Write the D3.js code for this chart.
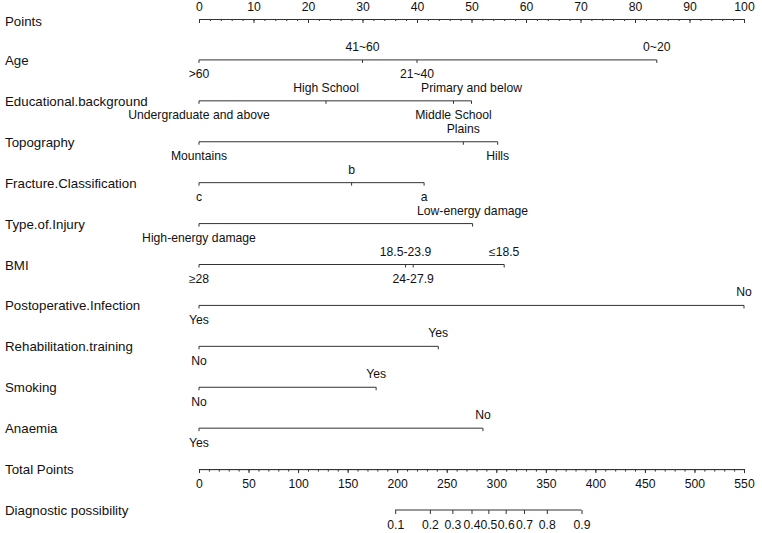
<!DOCTYPE html>
<html lang="en">
<head>
<meta charset="utf-8">
<title>Nomogram</title>
<script src="https://cdn.jsdelivr.net/npm/d3@7"></script>
<style>
body { margin: 0; background: #fff; }
text { font-family: "Liberation Sans", Arial, sans-serif; fill: #111; }
</style>
</head>
<body>
<div id="chart"></div>
<script>
var rowLabels = ["Points", "Age", "Educational.background", "Topography",
    "Fracture.Classification", "Type.of.Injury", "BMI", "Postoperative.Infection",
    "Rehabilitation.training", "Smoking", "Anaemia", "Total Points", "Diagnostic possibility"];

var pointsTicks = [0, 10, 20, 30, 40, 50, 60, 70, 80, 90, 100];

// one entry per predictor, levels and their points
var levelNames = [
    [">60", "41~60", "21~40", "0~20"],
    ["Undergraduate and above", "High School", "Middle School", "Primary and below"],
    ["Mountains", "Plains", "Hills"],
    ["c", "b", "a"],
    ["High-energy damage", "Low-energy damage"],
    ["\u226528", "18.5-23.9", "24-27.9", "\u226418.5"],
    ["Yes", "No"],
    ["No", "Yes"],
    ["No", "Yes"],
    ["Yes", "No"]
];
var levelPoints = [
    [0, 30, 40, 84],
    [0, 23.3, 46.7, 50],
    [0, 48.5, 54.8],
    [0, 28, 41.3],
    [0, 50.2],
    [0, 37.9, 39.3, 56],
    [0, 100],
    [0, 43.9],
    [0, 32.5],
    [0, 52.1]
];

var totalTicks = [0, 50, 100, 150, 200, 250, 300, 350, 400, 450, 500, 550];

var probTicks = ["0.1", "0.2", "0.3", "0.4", "0.5", "0.6", "0.7", "0.8", "0.9"];
var probTotal = [198, 233, 255.7, 275, 292, 309.5, 328, 351, 386];

var width = 762, height = 533;

var svg = d3.select("#chart").append("svg")
    .attr("width", width)
    .attr("height", height);

var xPts = d3.scaleLinear().domain([0, 100]).range([199, 744]);
var xTotal = d3.scaleLinear().domain([0, 550]).range([199, 744]);
var y = d3.scaleLinear().domain([0, 12]).range([19, 510]);

var lineColor = "#333";

// row labels
svg.append("g").selectAll("text")
    .data(rowLabels)
    .enter().append("text")
    .attr("x", 5)
    .attr("y", function(d, i) { return i == 0 ? 26 : y(i) + 5; })
    .style("font-size", "13.3px")
    .text(function(d) { return d; });

function styleAxis(g) {
    g.attr("font-size", null).attr("font-family", null);
    g.selectAll("path, line").attr("stroke", lineColor);
    g.selectAll("text").style("font-size", "12.2px").attr("fill", "#111");
}

// points axis
svg.append("g")
    .attr("transform", "translate(0," + y(0) + ")")
    .call(d3.axisTop(xPts).tickValues(xPts.ticks(50)).tickSizeInner(-2).tickSizeOuter(0).tickFormat(""))
    .call(styleAxis);

svg.append("g")
    .attr("transform", "translate(0," + y(0) + ")")
    .call(d3.axisTop(xPts).tickValues(pointsTicks).tickSizeInner(-4).tickSizeOuter(0).tickPadding(8))
    .call(styleAxis);

// predictor rows
levelNames.forEach(function(names, k) {
    var pts = levelPoints[k];
    var g = svg.append("g")
        .attr("transform", "translate(0," + y(k + 1) + ")");

    g.append("line")
        .attr("x1", xPts(d3.min(pts)))
        .attr("x2", xPts(d3.max(pts)))
        .attr("stroke", lineColor);

    var items = names.map(function(n, j) { return {name: n, p: pts[j]}; })
        .sort(function(a, b) { return a.p - b.p; });

    g.selectAll("line.tick")
        .data(items)
        .enter().append("line")
        .attr("class", "tick")
        .attr("x1", function(d) { return xPts(d.p); })
        .attr("x2", function(d) { return xPts(d.p); })
        .attr("y1", 0)
        .attr("y2", 3)
        .attr("stroke", lineColor);

    g.selectAll("text")
        .data(items)
        .enter().append("text")
        .attr("x", function(d) { return xPts(d.p); })
        .attr("y", function(d, j) { return j % 2 == 0 ? 18.5 : -9; })
        .attr("text-anchor", "middle")
        .style("font-size", "12.2px")
        .text(function(d) { return d.name; });
});

// total points axis
svg.append("g")
    .attr("transform", "translate(0," + y(11) + ")")
    .call(d3.axisBottom(xTotal).tickValues(xTotal.ticks(55)).tickSizeInner(2.5).tickSizeOuter(0).tickFormat(""))
    .call(styleAxis);

svg.append("g")
    .attr("transform", "translate(0," + y(11) + ")")
    .call(d3.axisBottom(xTotal).tickValues(totalTicks).tickSizeInner(4).tickSizeOuter(0).tickPadding(6.5))
    .call(styleAxis);

// diagnostic possibility
var diag = svg.append("g")
    .attr("transform", "translate(0," + y(12) + ")")
    .call(d3.axisBottom(xTotal).tickValues(probTotal).tickSizeInner(4).tickSizeOuter(0).tickPadding(6.5)
        .tickFormat(function(d, i) { return probTicks[i]; }))
    .call(styleAxis);
diag.select(".domain").remove();
diag.append("line")
    .attr("x1", xTotal(d3.min(probTotal)))
    .attr("x2", xTotal(d3.max(probTotal)))
    .attr("stroke", lineColor);
</script>
</body>
</html>
